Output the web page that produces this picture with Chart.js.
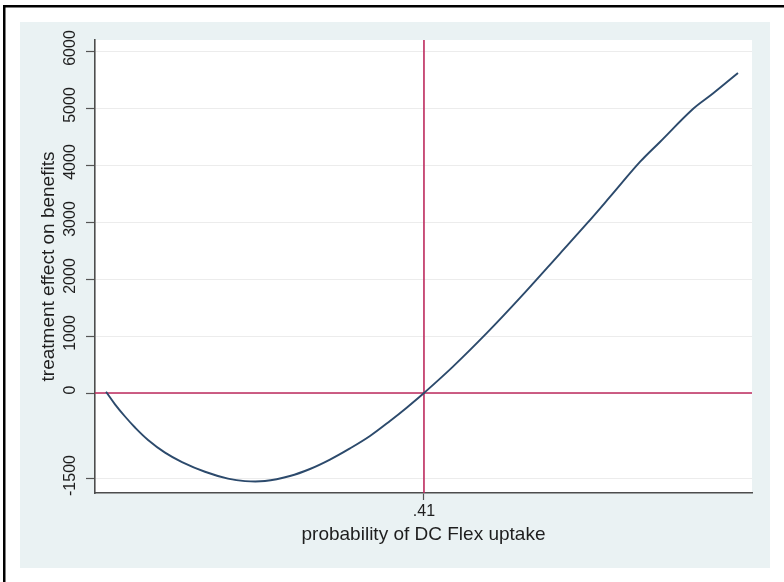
<!DOCTYPE html>
<html>
<head>
<meta charset="utf-8">
<script src="https://cdn.jsdelivr.net/npm/chart.js@4"></script>
<style>
  html, body { margin: 0; padding: 0; background: #ffffff; }
  #wrap { width: 784px; height: 582px; position: relative; }
</style>
</head>
<body>
<div id="wrap"><canvas id="c" width="784" height="582"></canvas></div>
<script>
// Estimated treatment effect on benefits across the probability of DC Flex uptake
const uptakeProb = [0.0000, 0.0116, 0.0245, 0.0374, 0.0542, 0.0761, 0.0980, 0.1276, 0.1573, 0.1792,
                    0.2050, 0.2372, 0.2630, 0.2888, 0.3146, 0.3404, 0.3662, 0.3881, 0.4100, 0.4474,
                    0.4912, 0.5338, 0.5854, 0.6202, 0.6498, 0.6885, 0.7143, 0.7568, 0.7826, 0.8149];
const benefitEffect = [23, -198, -412, -605, -823, -1046, -1211, -1381, -1502, -1546,
                       -1544, -1456, -1333, -1168, -972, -754, -491, -253, 0, 463,
                       1054, 1668, 2447, 2974, 3439, 4053, 4404, 4982, 5254, 5614];

// Axis ticks and labels
const yTickValues = [-1500, 0, 1000, 2000, 3000, 4000, 5000, 6000];
const yTickLabels = ['-1500', '0', '1000', '2000', '3000', '4000', '5000', '6000'];
const xTickValues = [0.41];
const xTickLabels = ['.41'];

// Reference lines
const xRefLine = 0.41;
const yRefLine = 0;

// Axis ranges
const xRange = [-0.0142, 0.833];
const yRange = [-1754, 6193];

const curvePoints = uptakeProb.map((p, i) => ({ x: p, y: benefitEffect[i] }));

const TEXT = '#1e1e1e';
const FONT = "'Liberation Sans', Arial, Helvetica, sans-serif";

// Page frame, graph region and white plot region
const framePlugin = {
  id: 'frame',
  beforeDraw(chart) {
    const { ctx, chartArea: a } = chart;
    ctx.save();
    ctx.fillStyle = '#ffffff';
    ctx.fillRect(0, 0, chart.width, chart.height);
    ctx.fillStyle = '#eaf2f3';
    ctx.fillRect(20, 22, 750, 546);
    ctx.fillStyle = '#ffffff';
    ctx.fillRect(a.left, a.top, a.right - a.left, a.bottom - a.top);
    ctx.fillStyle = '#000000';
    ctx.fillRect(3, 5, chart.width - 3, 2.5);
    ctx.fillRect(3, 5, 2.5, chart.height - 5);
    ctx.restore();
  }
};

// Vertical and horizontal reference lines
const refLinePlugin = {
  id: 'refLines',
  beforeDatasetsDraw(chart) {
    const { ctx, chartArea: a, scales: { x, y } } = chart;
    const px = x.getPixelForValue(xRefLine);
    const py = y.getPixelForValue(yRefLine);
    ctx.save();
    ctx.strokeStyle = '#bd2a5e';
    ctx.lineWidth = 1.6;
    ctx.beginPath();
    ctx.moveTo(px, a.top);
    ctx.lineTo(px, a.bottom);
    ctx.moveTo(a.left, py);
    ctx.lineTo(a.right, py);
    ctx.stroke();
    ctx.restore();
  }
};

// Rotated y tick labels placed from the y scale
const yLabelPlugin = {
  id: 'yLabels',
  afterDraw(chart) {
    const { ctx, scales: { y } } = chart;
    ctx.save();
    ctx.fillStyle = TEXT;
    ctx.font = '16px ' + FONT;
    ctx.textAlign = 'center';
    ctx.textBaseline = 'middle';
    yTickValues.forEach((v, i) => {
      const py = y.getPixelForValue(v) - 3;
      ctx.save();
      ctx.translate(71, py);
      ctx.rotate(-Math.PI / 2);
      ctx.fillText(yTickLabels[i], 0, 0);
      ctx.restore();
    });
    ctx.restore();
  }
};

new Chart(document.getElementById('c'), {
  type: 'scatter',
  data: {
    datasets: [{
      data: curvePoints,
      showLine: true,
      borderColor: '#2c4a6c',
      borderWidth: 1.9,
      pointRadius: 0,
      tension: 0.35,
      fill: false
    }]
  },
  options: {
    responsive: false,
    animation: false,
    devicePixelRatio: 1,
    layout: { padding: { left: 20, right: 32, top: 40, bottom: 14 } },
    plugins: { legend: { display: false }, tooltip: { enabled: false } },
    scales: {
      x: {
        type: 'linear',
        position: 'bottom',
        min: xRange[0],
        max: xRange[1],
        bounds: 'data',
        afterBuildTicks: s => { s.ticks = xTickValues.map(v => ({ value: v })); },
        afterFit: s => { s.height = 75; },
        grid: { drawOnChartArea: false, drawTicks: true, tickLength: 7, tickColor: '#555555', tickWidth: 1.2 },
        border: { display: true, color: '#4d4d4d', width: 1.6 },
        ticks: {
          autoSkip: false, maxRotation: 0, minRotation: 0, padding: 2,
          color: TEXT, font: { family: FONT, size: 16 },
          callback: (v, i) => xTickLabels[i]
        },
        title: {
          display: true, text: 'probability of DC Flex uptake', color: TEXT,
          font: { family: FONT, size: 19 }, padding: { top: 0, bottom: 21.6 }
        }
      },
      y: {
        type: 'linear',
        position: 'left',
        min: yRange[0],
        max: yRange[1],
        bounds: 'data',
        afterBuildTicks: s => { s.ticks = yTickValues.map(v => ({ value: v })); },
        afterFit: s => { s.width = 75; },
        grid: { color: '#ececec', lineWidth: 1, drawTicks: true, tickLength: 9, tickColor: '#555555', tickWidth: 1.2 },
        border: { display: true, color: '#4d4d4d', width: 1.6 },
        ticks: { display: false },
        title: {
          display: true, text: 'treatment effect on benefits', color: TEXT,
          font: { family: FONT, size: 19 }, padding: { top: 17.6, bottom: 0 }
        }
      }
    }
  },
  plugins: [framePlugin, refLinePlugin, yLabelPlugin]
});
</script>
</body>
</html>
